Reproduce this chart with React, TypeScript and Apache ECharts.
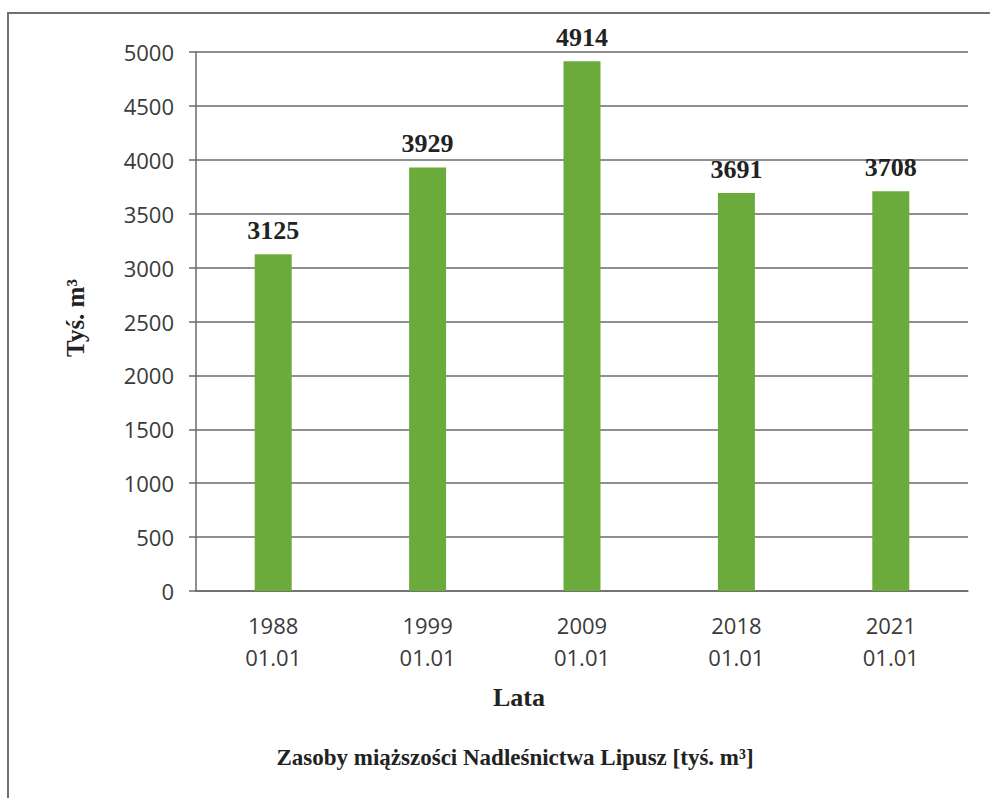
import React, { useEffect, useRef } from "react";
import * as echarts from "echarts";

const categories = ["1988\n01.01", "1999\n01.01", "2009\n01.01", "2018\n01.01", "2021\n01.01"];
const values = [3125, 3929, 4914, 3691, 3708];
const yTicks = { min: 0, max: 5000, interval: 500 };
const yName = "Tyś. m³";
const xName = "Lata";
const titleText = "Zasoby miąższości Nadleśnictwa Lipusz [tyś. m³]";

export default function App() {
  const ref = useRef<HTMLDivElement>(null);
  useEffect(() => {
    document.body.style.margin = "0";
    const chart = echarts.init(ref.current!, null, { renderer: "svg" });
    const serif = "'Liberation Serif', 'Times New Roman', serif";
    chart.setOption({
      animation: false,
      backgroundColor: "#ffffff",
      grid: { left: 196, right: 22, top: 52, bottom: 207 },
      xAxis: {
        type: "category",
        data: categories,
        axisLine: { show: true, lineStyle: { color: "#6a6a6a", width: 1.5 } },
        axisTick: { show: false },
        axisLabel: {
          fontFamily: "'Open Sans', sans-serif",
          fontSize: 22,
          color: "#3a3a3a",
          lineHeight: 32,
          margin: 18,
        },
      },
      yAxis: {
        type: "value",
        min: yTicks.min,
        max: yTicks.max,
        interval: yTicks.interval,
        axisLine: { show: true, lineStyle: { color: "#6a6a6a", width: 1.5 } },
        axisTick: { show: true, inside: false, length: 7, lineStyle: { color: "#6a6a6a", width: 1.5 } },
        splitLine: { show: true, lineStyle: { color: "#6a6a6a", width: 1.5 } },
        axisLabel: {
          fontFamily: "'Open Sans', sans-serif",
          fontSize: 22,
          color: "#3a3a3a",
          margin: 22,
          formatter: (v: number) => String(v),
        },
      },
      series: [
        {
          type: "bar",
          data: values,
          barWidth: 37,
          itemStyle: { color: "#6aab3c" },
          label: {
            show: true,
            position: "top",
            distance: 11,
            fontFamily: serif,
            fontWeight: "bold",
            fontSize: 26,
            color: "#222222",
          },
        },
      ],
      graphic: [
        {
          type: "rect",
          shape: { x: 8, y: 13, width: 1100, height: 1000 },
          style: { fill: "none", stroke: "#707070", lineWidth: 2 },
          silent: true,
        },
        {
          type: "text",
          x: 75,
          y: 318,
          rotation: Math.PI / 2,
          style: {
            text: yName,
            fontFamily: serif,
            fontWeight: "bold",
            fontSize: 25,
            fill: "#222222",
            align: "center",
            verticalAlign: "middle",
          },
        },
        {
          type: "text",
          x: 519,
          y: 697,
          style: {
            text: xName,
            fontFamily: serif,
            fontWeight: "bold",
            fontSize: 26,
            fill: "#222222",
            align: "center",
            verticalAlign: "middle",
          },
        },
        {
          type: "text",
          x: 515,
          y: 757,
          style: {
            text: titleText,
            fontFamily: serif,
            fontWeight: "bold",
            fontSize: 23,
            fill: "#222222",
            align: "center",
            verticalAlign: "middle",
          },
        },
      ],
    });
    return () => chart.dispose();
  }, []);
  return <div ref={ref} style={{ width: 990, height: 798 }} />;
}
